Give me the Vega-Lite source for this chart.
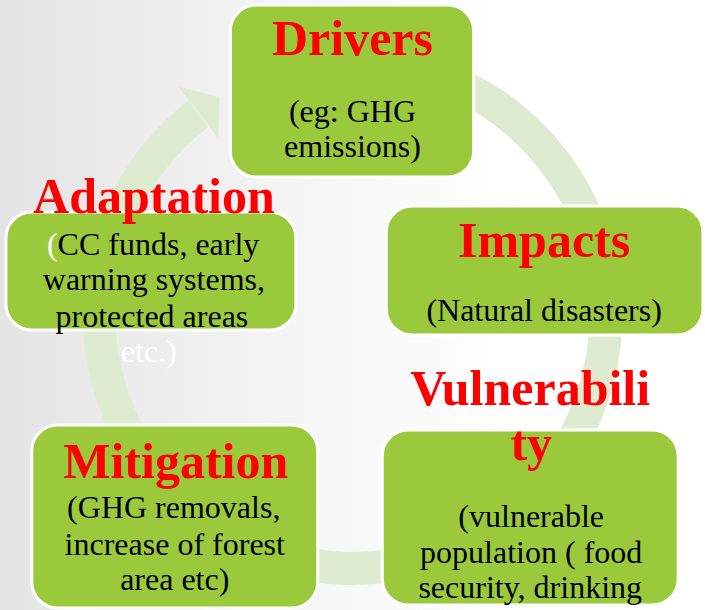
{
  "$schema": "https://vega.github.io/schema/vega-lite/v6.json",
  "autosize": {"type": "fit", "contains": "padding"},
  "width": 705,
  "height": 610,
  "padding": 0,
  "background": "#ffffff",
  "config": {"view": {"stroke": null}},
  "datasets": {
    "bg": [{"x": 0, "x2": 705, "y": 0, "y2": 610}],
    "ring": [{"cx": 355, "cy": 315, "t0": 0, "t1": 5.63, "rOuter": 270, "rInner": 237}],
    "head": [{"x": 213, "y": 103}],
    "boxes": [
      {"name": "Drivers", "x": 232, "x2": 477, "y": 5, "y2": 177},
      {"name": "Adaptation", "x": 6, "x2": 298, "y": 212, "y2": 330},
      {"name": "Impacts", "x": 389, "x2": 708, "y": 206, "y2": 335},
      {"name": "Vulnerability", "x": 385, "x2": 683, "y": 430, "y2": 605},
      {"name": "Mitigation", "x": 32, "x2": 320, "y": 425, "y2": 608}
    ],
    "titles": [
      {"text": "Drivers", "x": 355, "y": 55},
      {"text": "Adaptation", "x": 155, "y": 213},
      {"text": "Impacts", "x": 548, "y": 257},
      {"text": "Vulnerabili", "x": 534, "y": 405},
      {"text": "ty", "x": 535, "y": 460},
      {"text": "Mitigation", "x": 177, "y": 478}
    ],
    "body": [
      {"text": "(eg: GHG", "x": 355, "y": 122},
      {"text": "emissions)", "x": 355, "y": 157},
      {"text": "warning systems,", "x": 155, "y": 290},
      {"text": "protected areas", "x": 153, "y": 327},
      {"text": "(Natural disasters)", "x": 548, "y": 321},
      {"text": "(vulnerable", "x": 535, "y": 527},
      {"text": "population ( food", "x": 535, "y": 563},
      {"text": "security, drinking", "x": 534, "y": 598},
      {"text": "(GHG removals,", "x": 175, "y": 518},
      {"text": "increase of forest", "x": 176, "y": 555},
      {"text": "area etc)", "x": 176, "y": 590}
    ],
    "bodyLeft": [
      {"text": "CC funds, early", "x": 58, "y": 255}
    ],
    "white": [
      {"text": "(", "x": 58, "y": 255},
      {"text": "etc.)", "x": 178, "y": 362}
    ]
  },
  "layer": [
    {
      "data": {"name": "bg"},
      "mark": {
        "type": "rect",
        "color": {
          "gradient": "linear",
          "x1": 0, "y1": 0, "x2": 1, "y2": 0,
          "stops": [
            {"offset": 0, "color": "#e4e4e4"},
            {"offset": 0.45, "color": "#f6f6f6"},
            {"offset": 0.75, "color": "#ffffff"},
            {"offset": 1, "color": "#ffffff"}
          ]
        }
      },
      "encoding": {
        "x": {"field": "x", "type": "quantitative", "scale": {"domain": [0, 705], "nice": false, "zero": false}, "axis": null},
        "x2": {"field": "x2"},
        "y": {"field": "y", "type": "quantitative", "scale": {"domain": [0, 610], "nice": false, "zero": false, "reverse": true}, "axis": null},
        "y2": {"field": "y2"}
      }
    },
    {
      "data": {"name": "ring"},
      "mark": {"type": "arc", "color": "#dfebd1"},
      "encoding": {
        "x": {"field": "cx", "type": "quantitative"},
        "y": {"field": "cy", "type": "quantitative"},
        "theta": {"field": "t0", "type": "quantitative", "scale": null, "stack": null},
        "theta2": {"field": "t1"},
        "radius": {"field": "rOuter", "type": "quantitative", "scale": null},
        "radius2": {"field": "rInner"}
      }
    },
    {
      "data": {"name": "head"},
      "mark": {"type": "point", "shape": "M -0.5 -1 L 0.3 0 L -0.5 1 Z", "size": 4225, "angle": 322.6, "filled": true, "color": "#dfebd1", "opacity": 1, "strokeWidth": 0},
      "encoding": {
        "x": {"field": "x", "type": "quantitative"},
        "y": {"field": "y", "type": "quantitative"}
      }
    },
    {
      "data": {"name": "boxes"},
      "mark": {"type": "rect", "fill": "#9aca3c", "stroke": "#ffffff", "strokeWidth": 3, "cornerRadius": 26},
      "encoding": {
        "x": {"field": "x", "type": "quantitative"},
        "x2": {"field": "x2"},
        "y": {"field": "y", "type": "quantitative"},
        "y2": {"field": "y2"}
      }
    },
    {
      "data": {"name": "body"},
      "mark": {"type": "text", "font": "Liberation Serif", "fontSize": 32, "color": "#000000", "align": "center", "baseline": "alphabetic"},
      "encoding": {
        "x": {"field": "x", "type": "quantitative"},
        "y": {"field": "y", "type": "quantitative"},
        "text": {"field": "text"}
      }
    },
    {
      "data": {"name": "bodyLeft"},
      "mark": {"type": "text", "font": "Liberation Serif", "fontSize": 32, "color": "#000000", "align": "left", "baseline": "alphabetic"},
      "encoding": {
        "x": {"field": "x", "type": "quantitative"},
        "y": {"field": "y", "type": "quantitative"},
        "text": {"field": "text"}
      }
    },
    {
      "data": {"name": "white"},
      "mark": {"type": "text", "font": "Liberation Serif", "fontSize": 32, "color": "#ffffff", "align": "right", "baseline": "alphabetic"},
      "encoding": {
        "x": {"field": "x", "type": "quantitative"},
        "y": {"field": "y", "type": "quantitative"},
        "text": {"field": "text"}
      }
    },
    {
      "data": {"name": "titles"},
      "mark": {"type": "text", "font": "Liberation Serif", "fontSize": 50, "fontWeight": "bold", "color": "#ff0000", "align": "center", "baseline": "alphabetic"},
      "encoding": {
        "x": {"field": "x", "type": "quantitative"},
        "y": {"field": "y", "type": "quantitative"},
        "text": {"field": "text"}
      }
    }
  ]
}
